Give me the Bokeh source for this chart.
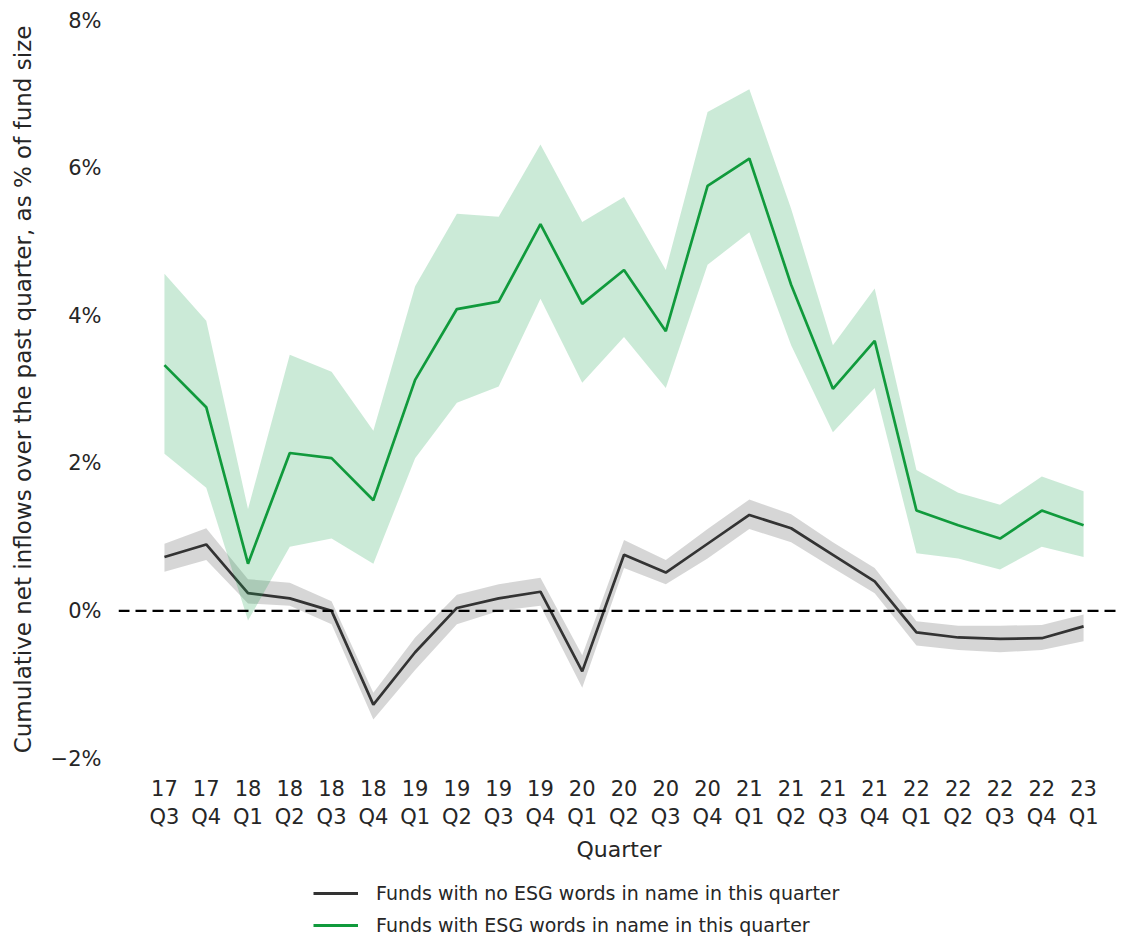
from bokeh.plotting import figure
from bokeh.layouts import column
from bokeh.models import FixedTicker, Span, Legend, LegendItem, ColumnDataSource
from bokeh.embed import file_html
from bokeh.resources import INLINE

quarters = ["17\nQ3", "17\nQ4", "18\nQ1", "18\nQ2", "18\nQ3", "18\nQ4",
            "19\nQ1", "19\nQ2", "19\nQ3", "19\nQ4", "20\nQ1", "20\nQ2",
            "20\nQ3", "20\nQ4", "21\nQ1", "21\nQ2", "21\nQ3", "21\nQ4",
            "22\nQ1", "22\nQ2", "22\nQ3", "22\nQ4", "23\nQ1"]

esg_mean = [3.33, 2.76, 0.64, 2.14, 2.07, 1.50, 3.13, 4.09, 4.19, 5.24, 4.16, 4.62,
            3.79, 5.76, 6.13, 4.42, 3.01, 3.66, 1.36, 1.16, 0.98, 1.36, 1.16]
esg_upper = [4.57, 3.93, 1.38, 3.47, 3.24, 2.44, 4.40, 5.38, 5.34, 6.32, 5.27, 5.61,
             4.62, 6.76, 7.07, 5.45, 3.60, 4.37, 1.91, 1.60, 1.44, 1.82, 1.62]
esg_lower = [2.13, 1.67, -0.13, 0.87, 0.98, 0.64, 2.07, 2.82, 3.04, 4.23, 3.09, 3.71,
             3.02, 4.69, 5.13, 3.60, 2.42, 3.02, 0.78, 0.71, 0.56, 0.87, 0.73]

non_mean = [0.73, 0.90, 0.24, 0.17, 0.00, -1.27, -0.56, 0.04, 0.17, 0.26, -0.82, 0.76,
            0.52, 0.91, 1.30, 1.12, 0.76, 0.40, -0.29, -0.36, -0.38, -0.37, -0.21]
non_upper = [0.91, 1.12, 0.43, 0.38, 0.13, -1.11, -0.36, 0.22, 0.36, 0.45, -0.60, 0.96,
             0.69, 1.11, 1.51, 1.31, 0.93, 0.58, -0.14, -0.20, -0.20, -0.19, -0.05]
non_lower = [0.53, 0.69, 0.10, 0.07, -0.18, -1.47, -0.80, -0.18, 0.00, 0.07, -1.04, 0.58,
             0.36, 0.71, 1.11, 0.93, 0.58, 0.24, -0.47, -0.53, -0.56, -0.53, -0.41]

y_ticks = [-2, 0, 2, 4, 6, 8]
y_tick_labels = ["\u22122%", "0%", "2%", "4%", "6%", "8%"]

label_esg = "Funds with ESG words in name in this quarter"
label_non = "Funds with no ESG words in name in this quarter"

x = list(range(len(quarters)))
src = ColumnDataSource(dict(x=x, em=esg_mean, eu=esg_upper, el=esg_lower,
                            nm=non_mean, nu=non_upper, nl=non_lower))

FONT = "DejaVu Sans"
TXT = "#262626"
TICK_FS = "21px"
LABEL_FS = "23px"
LEG_FS = "19px"
GRAY_LINE = "#333333"
GREEN_LINE = "#109a3c"

p = figure(width=1119, height=865, x_range=(-1.1, 22.86), y_range=(-2, 8),
           output_backend="svg", toolbar_location=None,
           min_border_left=118, min_border_right=0, min_border_top=20,
           min_border_bottom=95)
p.outline_line_color = None
p.grid.visible = False

# bands and lines
p.varea(x="x", y1="nl", y2="nu", source=src, fill_color="#000000", fill_alpha=0.16)
p.line(x="x", y="nm", source=src, line_color=GRAY_LINE, line_width=2.7)
p.varea(x="x", y1="el", y2="eu", source=src, fill_color="#1fa653", fill_alpha=0.23)
p.line(x="x", y="em", source=src, line_color=GREEN_LINE, line_width=2.7)

zero = Span(location=0, dimension="width", line_color="black", line_width=2.4,
            line_dash="11 6")
p.add_layout(zero)

# axes
p.xaxis.ticker = FixedTicker(ticks=x)
p.xaxis.major_label_overrides = {i: q for i, q in enumerate(quarters)}
p.yaxis.ticker = FixedTicker(ticks=y_ticks)
p.yaxis.major_label_overrides = {t: l for t, l in zip(y_ticks, y_tick_labels)}
for ax in (p.xaxis[0], p.yaxis[0]):
    ax.axis_line_color = None
    ax.major_tick_line_color = None
    ax.minor_tick_line_color = None
    ax.major_label_text_font = FONT
    ax.major_label_text_font_size = TICK_FS
    ax.major_label_text_color = TXT
    ax.axis_label_text_font = FONT
    ax.axis_label_text_font_size = LABEL_FS
    ax.axis_label_text_font_style = "normal"
    ax.axis_label_text_color = TXT
p.xaxis.axis_label = "Quarter"
p.xaxis.axis_label_text_font_size = "22px"
p.xaxis.major_label_standoff = 12
p.xaxis.axis_label_standoff = 5
p.yaxis.axis_label = "Cumulative net inflows over the past quarter, as % of fund size"
p.yaxis.major_label_standoff = 11
p.yaxis.axis_label_standoff = 12

# legend in its own strip below the chart (frames are aligned with the chart)
lf = figure(width=1119, height=74, x_range=(0, 1), y_range=(0, 1),
            output_backend="svg", toolbar_location=None, min_border=0,
            x_axis_location=None, y_axis_location=None)
lf.outline_line_color = None
lf.grid.visible = False
nan = float("nan")
r_non = lf.line(x=[nan], y=[nan], line_color=GRAY_LINE, line_width=3)
r_esg = lf.line(x=[nan], y=[nan], line_color=GREEN_LINE, line_width=3)

legend = Legend(items=[LegendItem(label=label_non, renderers=[r_non]),
                       LegendItem(label=label_esg, renderers=[r_esg])],
                location=(195, 3), orientation="vertical")
legend.border_line_color = None
legend.background_fill_alpha = 0
legend.label_text_font = FONT
legend.label_text_font_size = LEG_FS
legend.label_text_color = TXT
legend.glyph_width = 45
legend.label_standoff = 18
legend.spacing = 10
legend.padding = 3
legend.margin = 0
lf.add_layout(legend, "center")

open("out.html", "w").write(file_html(column(p, lf), INLINE))
